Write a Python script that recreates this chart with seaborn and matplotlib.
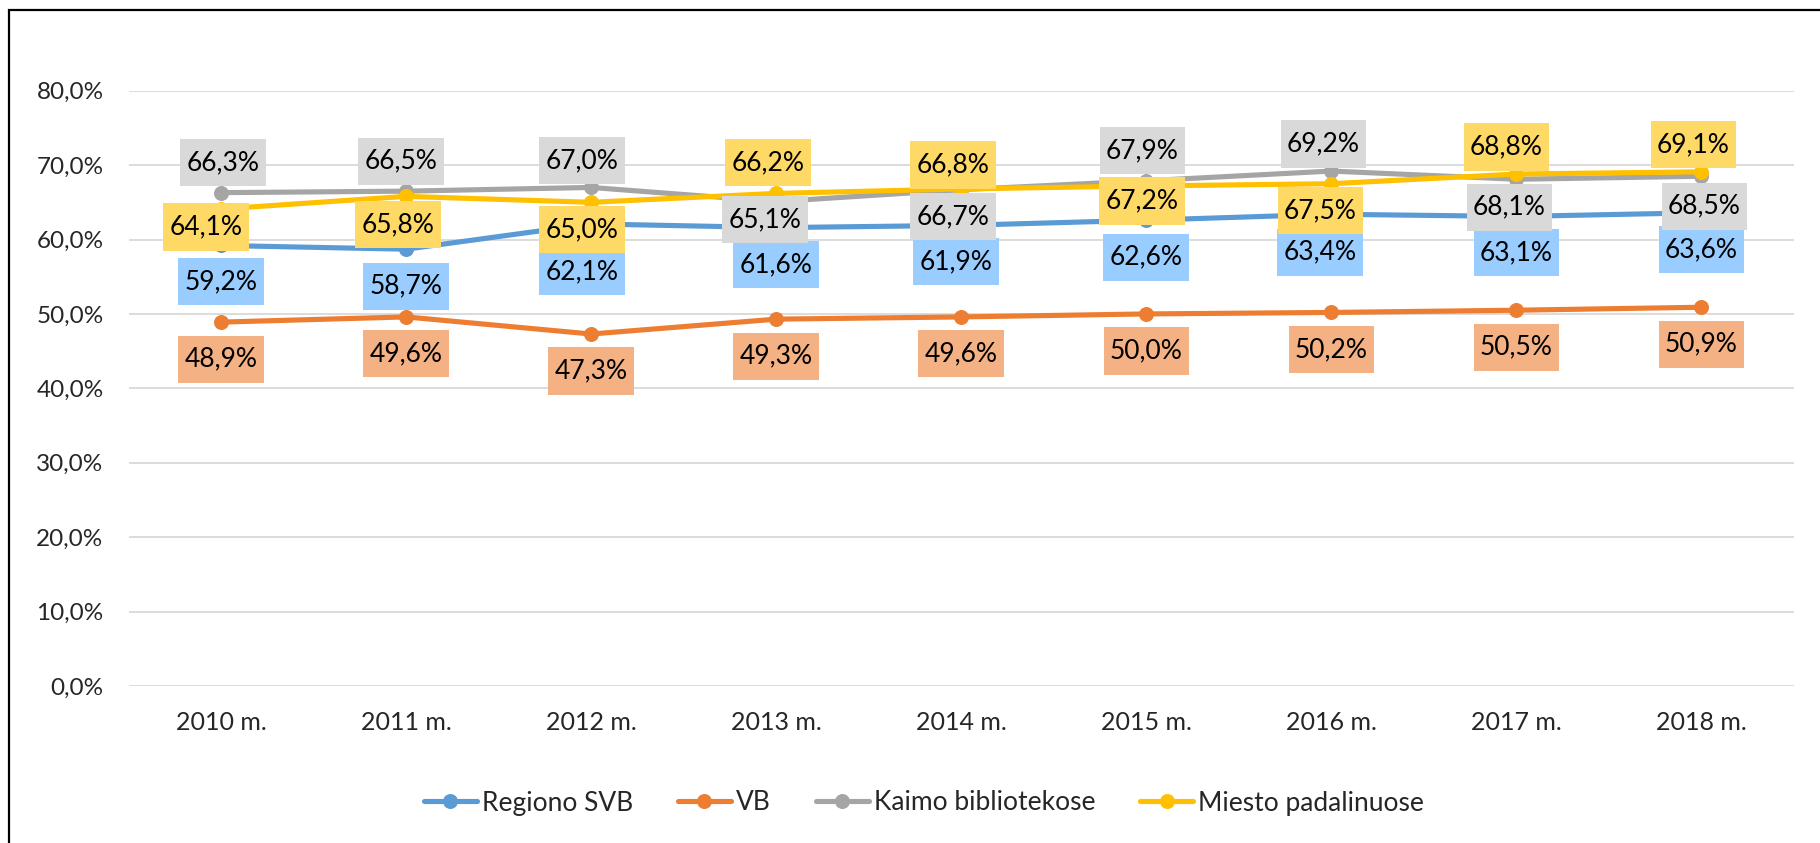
import matplotlib
matplotlib.use("Agg")
import matplotlib.pyplot as plt
from matplotlib.ticker import FuncFormatter
from matplotlib.patches import Rectangle
from matplotlib.path import Path
import seaborn as sns
import pandas as pd

# data (percent)
years = ["2010 m.", "2011 m.", "2012 m.", "2013 m.", "2014 m.",
         "2015 m.", "2016 m.", "2017 m.", "2018 m."]
series_names = ["Regiono SVB", "VB", "Kaimo bibliotekose", "Miesto padalinuose"]
regiono_svb = [59.2, 58.7, 62.1, 61.6, 61.9, 62.6, 63.4, 63.1, 63.6]
vb = [48.9, 49.6, 47.3, 49.3, 49.6, 50.0, 50.2, 50.5, 50.9]
kaimo = [66.3, 66.5, 67.0, 65.1, 66.7, 67.9, 69.2, 68.1, 68.5]
miesto = [64.1, 65.8, 65.0, 66.2, 66.8, 67.2, 67.5, 68.8, 69.1]

line_colors = ["#5B9BD5", "#ED7D31", "#A5A5A5", "#FFC000"]
box_colors = ["#99CCFF", "#F4B183", "#D9D9D9", "#FFD966"]

# label placement relative to the point, in pixels (dx right, dy down)
label_offsets = {
    "Regiono SVB": [(0, 36), (0, 37), (-9, 48), (0, 37), (-5, 36), (0, 37), (-11, 38), (0, 36), (0, 37)],
    "VB": [(0, 37)] * 9,
    "Kaimo bibliotekose": [(2, -30), (-5, -30), (-9, -27), (-11, 18), (-8, 27), (-4, -30), (-8, -27), (-7, 28), (3, 30)],
    "Miesto padalinuose": [(-15, 18), (-8, 28), (-9, 27), (-8, -31), (-8, -24), (-4, 15), (-11, 27), (-10, -27), (-8, -27)],
}

values = [regiono_svb, vb, kaimo, miesto]
df = pd.DataFrame({
    "pos": list(range(len(years))) * len(series_names),
    "value": sum(values, []),
    "series": [s for s in series_names for _ in years],
})


def label_box(x0, y0, width, height, mutation_size):
    # plain rectangle, wider padding top/bottom than left/right (like Excel labels)
    px, py = 0.24 * mutation_size, 0.42 * mutation_size
    x0, y0 = x0 - px, y0 - py
    x1, y1 = x0 + width + 2 * px, y0 + height + 2 * py
    return Path([(x0, y0), (x1, y0), (x1, y1), (x0, y1), (x0, y0)], closed=True)


sns.set_style("white")
plt.rcParams["font.family"] = ["Lato", "DejaVu Sans"]

fig = plt.figure(figsize=(18.2, 8.43), dpi=100)
ax = fig.add_axes([128.5 / 1820, 1 - 686 / 843, (1794 - 128.5) / 1820, (686 - 90.7) / 843])

sns.lineplot(data=df, x="pos", y="value", hue="series", hue_order=series_names,
             palette=line_colors, marker="o", markersize=10, linewidth=3.7,
             ax=ax, legend=False)
for line in ax.lines:
    line.set_markeredgecolor(line.get_color())

# data labels
for k, name in enumerate(series_names):
    for i, v in enumerate(values[k]):
        dx, dy = label_offsets[name][i]
        ax.annotate(f"{v:.1f}%".replace(".", ","), xy=(i, v), xytext=(dx, -dy),
                    textcoords="offset pixels", ha="center", va="center",
                    fontsize=19, color="black", zorder=5 + k,
                    bbox=dict(boxstyle=label_box, fc=box_colors[k], ec="none"))

ax.set_xlim(-0.5, len(years) - 0.5)
ax.set_ylim(0, 80)
ax.set_yticks(range(0, 81, 10))
ax.yaxis.set_major_formatter(FuncFormatter(lambda v, p: f"{v:.1f}%".replace(".", ",")))
ax.set_xticks(range(len(years)))
ax.set_xticklabels(years)
ax.tick_params(axis="y", length=0, pad=18, labelsize=17.5)
ax.tick_params(axis="x", length=0, pad=18, labelsize=18)
ax.set_xlabel("")
ax.set_ylabel("")
ax.grid(axis="y", color="#D9D9D9", linewidth=1.3)
ax.set_axisbelow(True)
for s in ax.spines.values():
    s.set_visible(False)

fig.legend(handles=ax.lines[:4], labels=series_names, loc="center",
           bbox_to_anchor=(924 / 1820, 1 - 803 / 843), ncol=4, frameon=False,
           fontsize=19, handlelength=2.0, columnspacing=1.7, handletextpad=0.2,
           numpoints=1)

# outer chart border (right and bottom edges fall outside the image)
fig.add_artist(Rectangle((9 / 1820, -0.1), 1.2, 1.1 - 10 / 843, transform=fig.transFigure,
                         fill=False, ec="black", lw=1.6, clip_on=False))

fig.savefig("out.png", dpi=100)
